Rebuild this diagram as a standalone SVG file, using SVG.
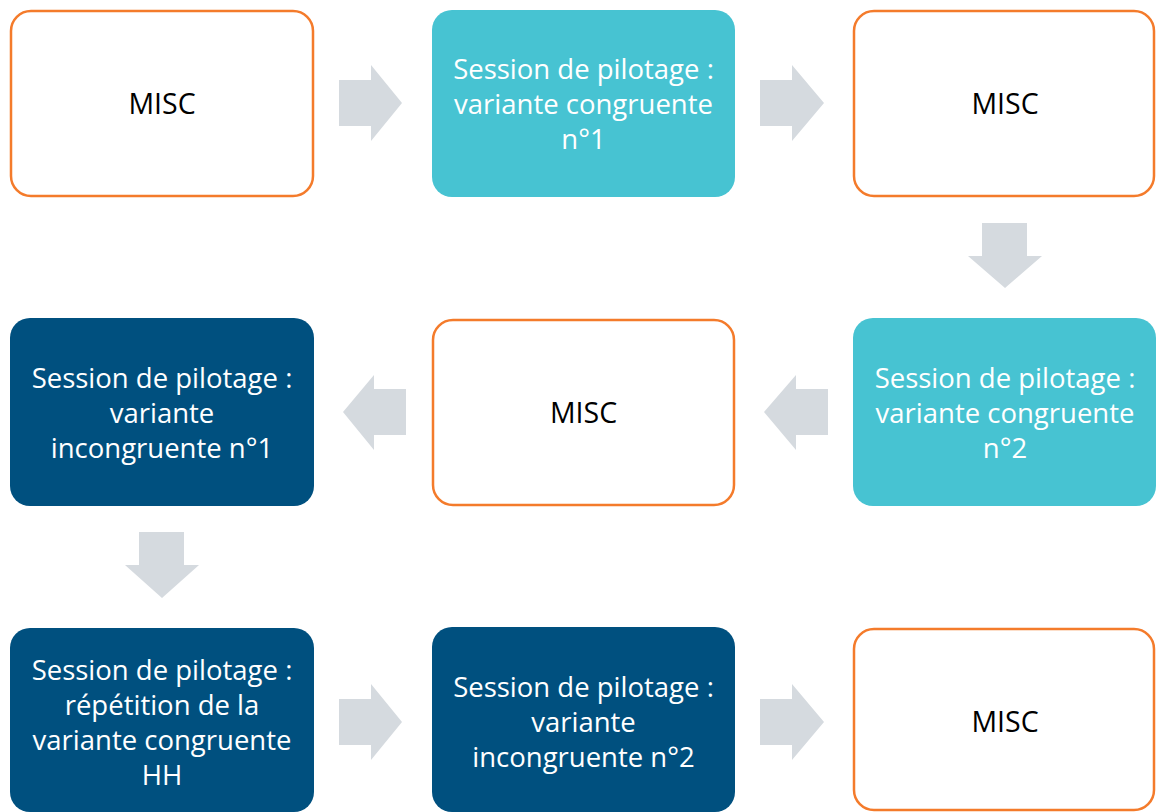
<svg xmlns="http://www.w3.org/2000/svg" width="1156" height="812" viewBox="0 0 1156 812">
<style>
.misc{fill:#FFFFFF;stroke:#F47B2B;stroke-width:2.5}
.teal{fill:#47C3D2}
.dark{fill:#00507F}
.arr{fill:#D5DADF}
text{font-family:"Open Sans","Noto Sans","DejaVu Sans",sans-serif;font-size:27.5px;text-anchor:middle}
.w{fill:#FFFFFF}
.k{fill:#000000;font-size:28.5px}
</style>
<g id="connectors">
<polygon class="arr" points="339,80 371,80 371,65 402,103 371,141 371,126 339,126"/>
<polygon class="arr" points="760,80 792,80 792,65 824,103 792,141 792,126 760,126"/>
<polygon class="arr" points="982,223 1027,223 1027,256 1042,256 1005,288 968,256 982,256"/>
<polygon class="arr" points="828,389 796,389 796,375 764,412 796,450 796,435 828,435"/>
<polygon class="arr" points="406,389 374,389 374,375 343,412 374,450 374,435 406,435"/>
<polygon class="arr" points="139,532 184,532 184,565 199,565 162,598 125,565 139,565"/>
<polygon class="arr" points="339,699 371,699 371,684 402,722 371,760 371,745 339,745"/>
<polygon class="arr" points="760,699 792,699 792,684 824,722 792,760 792,745 760,745"/>
</g>
<g id="n1"><rect class="misc" x="11" y="11" width="302" height="185" rx="20"/><text class="k" x="162" y="114">MISC</text></g>
<g id="n2"><rect class="teal" x="432" y="10" width="303" height="187" rx="20"/><text class="w" x="583.5" y="79">Session de pilotage :</text><text class="w" x="583.5" y="114">variante congruente</text><text class="w" x="583.5" y="149">n°1</text></g>
<g id="n3"><rect class="misc" x="854" y="11" width="300" height="185" rx="20"/><text class="k" x="1005" y="114">MISC</text></g>
<g id="n4"><rect class="teal" x="853" y="318" width="303" height="188" rx="20"/><text class="w" x="1005" y="388">Session de pilotage :</text><text class="w" x="1005" y="423">variante congruente</text><text class="w" x="1005" y="458">n°2</text></g>
<g id="n5"><rect class="misc" x="433" y="320" width="301" height="185" rx="20"/><text class="k" x="583.5" y="423">MISC</text></g>
<g id="n6"><rect class="dark" x="10" y="318" width="304" height="188" rx="20"/><text class="w" x="162" y="388">Session de pilotage :</text><text class="w" x="162" y="423">variante</text><text class="w" x="162" y="458">incongruente n°1</text></g>
<g id="n7"><rect class="dark" x="10" y="628" width="304" height="184" rx="20"/><text class="w" x="162" y="680">Session de pilotage :</text><text class="w" x="162" y="715">répétition de la</text><text class="w" x="162" y="750">variante congruente</text><text class="w" x="162" y="785">HH</text></g>
<g id="n8"><rect class="dark" x="432" y="627" width="303" height="185" rx="20"/><text class="w" x="583.5" y="697">Session de pilotage :</text><text class="w" x="583.5" y="732">variante</text><text class="w" x="583.5" y="767">incongruente n°2</text></g>
<g id="n9"><rect class="misc" x="854" y="629" width="300" height="181" rx="20"/><text class="k" x="1005" y="732">MISC</text></g>
</svg>
